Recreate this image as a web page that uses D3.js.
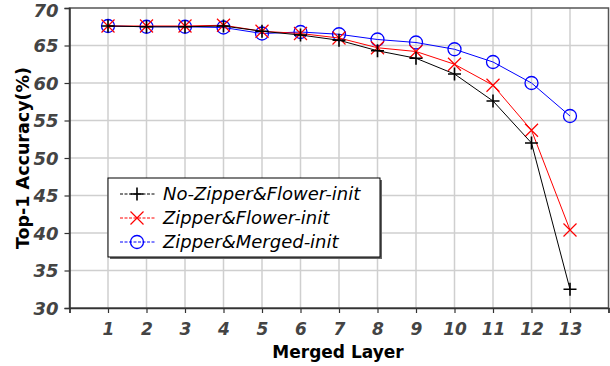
<!DOCTYPE html>
<html>
<head>
<meta charset="utf-8">
<script src="https://cdn.jsdelivr.net/npm/d3@7"></script>
<style>
  body { margin: 0; background: #fff; }
  svg text { font-family: "DejaVu Sans", sans-serif; }
</style>
</head>
<body>
<div id="chart"></div>
<script>
// data
const layers = [1, 2, 3, 4, 5, 6, 7, 8, 9, 10, 11, 12, 13];
const noZipperFlower = [67.6, 67.5, 67.5, 67.6, 66.9, 66.4, 65.7, 64.3, 63.3, 61.2, 57.6, 52.0, 32.5];
const zipperFlower = [67.6, 67.6, 67.6, 67.7, 66.9, 66.6, 66.0, 64.7, 64.2, 62.5, 59.7, 53.7, 40.4];
const zipperMerged = [67.6, 67.5, 67.5, 67.4, 66.6, 66.8, 66.5, 65.8, 65.4, 64.5, 62.8, 60.0, 55.6];
const seriesNames = ["No-Zipper&Flower-init", "Zipper&Flower-init", "Zipper&Merged-init"];
const yTicks = [30, 35, 40, 45, 50, 55, 60, 65, 70];

const series = [
  { name: seriesNames[0], values: noZipperFlower, color: "#000", marker: "plus" },
  { name: seriesNames[1], values: zipperFlower, color: "#ff0000", marker: "cross" },
  { name: seriesNames[2], values: zipperMerged, color: "#0000ff", marker: "circle" }
];

const width = 610, height = 366;
const margin = { top: 8, right: 1.5, bottom: 58, left: 69.5 };
const iw = width - margin.left - margin.right;
const ih = height - margin.top - margin.bottom;

const svg = d3.select("#chart").append("svg")
  .attr("width", width)
  .attr("height", height);

const g = svg.append("g")
  .attr("transform", `translate(${margin.left},${margin.top})`);

const x = d3.scaleLinear().domain([0, 14]).range([0, iw]);
const y = d3.scaleLinear().domain([30, 70]).range([ih, 0]);

// grid
g.append("g").selectAll("line")
  .data(d3.range(1, 14))
  .enter().append("line")
  .attr("x1", d => x(d)).attr("x2", d => x(d))
  .attr("y1", 0).attr("y2", ih)
  .attr("stroke", "#cfcfcf").attr("stroke-width", 1.5);

g.append("g").selectAll("line")
  .data(yTicks.slice(1, -1))
  .enter().append("line")
  .attr("x1", 0).attr("x2", iw)
  .attr("y1", d => y(d)).attr("y2", d => y(d))
  .attr("stroke", "#cfcfcf").attr("stroke-width", 1.5);

// frame
g.append("rect")
  .attr("width", iw).attr("height", ih)
  .attr("fill", "none").attr("stroke", "#555").attr("stroke-width", 1.5);

// axes
const xAxis = g.append("g")
  .attr("transform", `translate(0,${ih})`)
  .call(d3.axisBottom(x).tickValues(d3.range(0, 15)).tickSize(5)
    .tickFormat(d => (d >= 1 && d <= 13) ? d : ""));
xAxis.select(".domain").attr("stroke", "#333").attr("stroke-width", 1.5);
xAxis.selectAll(".tick line").attr("stroke", "#333").attr("stroke-width", 1.2);
xAxis.selectAll("text")
  .attr("dy", 0).attr("y", 27)
  .attr("fill", "#444")
  .style("font-size", "17px").style("font-weight", "bold").style("font-style", "italic");

const yAxis = g.append("g")
  .call(d3.axisLeft(y).tickValues(yTicks).tickSize(5).tickFormat(d3.format("d")));
yAxis.select(".domain").attr("stroke", "#333").attr("stroke-width", 1.5);
yAxis.selectAll(".tick line").attr("stroke", "#333").attr("stroke-width", 1.2);
yAxis.selectAll("text")
  .attr("x", -11).attr("dy", d => d === 70 ? "0.45em" : "0.36em")
  .attr("fill", "#444")
  .style("font-size", "18px").style("font-weight", "bold").style("font-style", "italic");

// axis titles
svg.append("text")
  .attr("transform", `translate(29,${margin.top + ih / 2}) rotate(-90)`)
  .attr("text-anchor", "middle")
  .style("font-size", "17.5px").style("font-weight", "bold")
  .text("Top-1 Accuracy(%)");

svg.append("text")
  .attr("x", 338).attr("y", 358)
  .attr("text-anchor", "middle")
  .style("font-size", "17px").style("font-weight", "bold")
  .text("Merged Layer");

function drawMarker(sel, type, color) {
  const s = 6.5;
  if (type === "plus") {
    sel.append("path").attr("d", `M${-s},0H${s}M0,${-s}V${s}`)
      .attr("stroke", color).attr("stroke-width", 1.6).attr("fill", "none");
  } else if (type === "cross") {
    sel.append("path").attr("d", `M${-s},${-s}L${s},${s}M${-s},${s}L${s},${-s}`)
      .attr("stroke", color).attr("stroke-width", 1.2).attr("fill", "none");
  } else {
    sel.append("circle").attr("r", s)
      .attr("stroke", color).attr("stroke-width", 1.3).attr("fill", "none");
  }
}

const line = d3.line()
  .x((d, i) => x(layers[i]))
  .y(d => y(d));

// draw blue first so black stays on top
[...series].reverse().forEach(s => {
  g.append("path")
    .datum(s.values)
    .attr("fill", "none")
    .attr("stroke", s.color)
    .attr("stroke-width", 1)
    .attr("d", line);
  const pts = g.append("g").selectAll("g")
    .data(s.values)
    .enter().append("g")
    .attr("transform", (d, i) => `translate(${x(layers[i])},${y(d)})`);
  pts.each(function () { drawMarker(d3.select(this), s.marker, s.color); });
});

// legend
const lg = svg.append("g").attr("transform", "translate(108,178)");
lg.append("rect")
  .attr("x", 2).attr("y", 2)
  .attr("width", 272).attr("height", 79)
  .attr("fill", "#666");
lg.append("rect")
  .attr("width", 272).attr("height", 79)
  .attr("fill", "#fff").attr("stroke", "#000").attr("stroke-width", 1);

series.forEach((s, i) => {
  const row = lg.append("g").attr("transform", `translate(0,${16 + i * 24})`);
  row.append("line")
    .attr("x1", 12).attr("x2", 47)
    .attr("stroke", s.color).attr("stroke-width", 1)
    .attr("stroke-dasharray", "3,1.5");
  const m = row.append("g").attr("transform", "translate(29,0)");
  drawMarker(m, s.marker, s.color);
  row.append("text")
    .attr("x", 55).attr("dy", "0.35em")
    .style("font-size", "18px").style("font-style", "italic")
    .text(s.name);
});
</script>
</body>
</html>
